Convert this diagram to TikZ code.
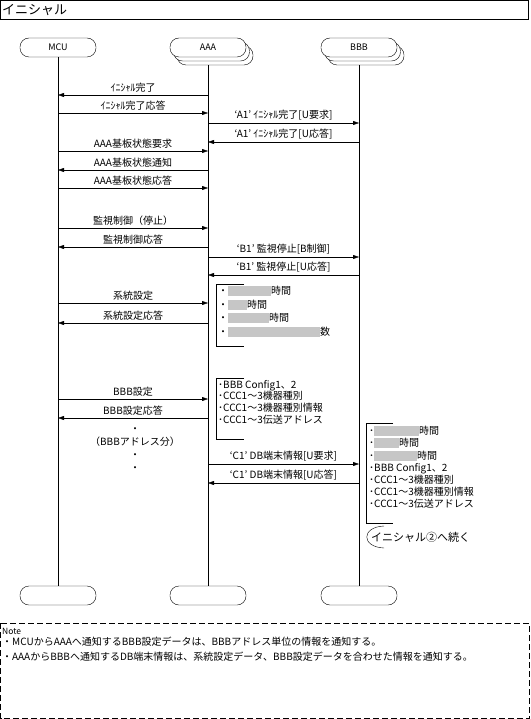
\documentclass[tikz,border=0pt]{standalone}
\usepackage{fontspec}
\setmainfont{Noto Sans CJK JP}
\usetikzlibrary{arrows.meta}
\newcommand{\blurred}[1]{\textcolor{gray!45}{\rule[-1.5pt]{#1}{10pt}}}

\begin{document}
\begin{tikzpicture}[x=1pt,y=-1pt,
  every node/.style={font=\fontsize{10}{12}\selectfont,inner sep=1pt},
  head/.style={draw,thin,fill=white,rounded corners=9pt,minimum width=76pt,
    minimum height=19pt,font=\fontsize{9}{10}\selectfont},
  msg/.style={thin,-{Triangle[length=6pt,width=4pt]}},
  lbl/.style={midway,above=1.5pt}]
  \useasboundingbox (0,0) rectangle (530,719);
  \draw[thin] (0.5,0.5) rectangle (528,19.5);
  \node[anchor=west,font=\fontsize{13}{15}\selectfont] (title) at (1,10) {イニシャル};
  % heads and feet of the lifelines
  \node[head] (mcu) at (58,47.5) {MCU};
  \foreach \name/\position/\entry in {aaa/208/AAA,bbb/359/BBB} {
    \node[head] (\name3) at (\position+7,55.5) {};
    \node[head] (\name2) at (\position+3.5,51.5) {};
    \node[head] (\name) at (\position,47.5) {\entry};
  }
  \foreach \name/\position in {mcu/58,aaa/208,bbb/359}
    \node[head] (\name-end) at (\position,595.5) {};
  \draw[thin] (mcu.south) -- (mcu-end.north);
  \draw[thin] (aaa3.south -| aaa) -- (aaa-end.north);
  \draw[thin] (bbb3.south -| bbb) -- (bbb-end.north);
  % messages
  \foreach \y/\src/\dst/\entry in {
      95/aaa/mcu/{ｲﾆｼｬﾙ完了},
      113/mcu/aaa/{ｲﾆｼｬﾙ完了応答},
      123/aaa/bbb/{‘A1’ ｲﾆｼｬﾙ完了[U要求]},
      142/bbb/aaa/{‘A1’ ｲﾆｼｬﾙ完了[U応答]},
      151/mcu/aaa/{AAA基板状態要求},
      170/aaa/mcu/{AAA基板状態通知},
      188/mcu/aaa/{AAA基板状態応答},
      228/mcu/aaa/{監視制御（停止）},
      247/aaa/mcu/{監視制御応答},
      257/aaa/bbb/{‘B1’ 監視停止[B制御]},
      275/bbb/aaa/{‘B1’ 監視停止[U応答]},
      303/mcu/aaa/{系統設定},
      323/aaa/mcu/{系統設定応答},
      399/mcu/aaa/{BBB設定},
      418/aaa/mcu/{BBB設定応答},
      464/aaa/bbb/{‘C1’ DB端末情報[U要求]},
      483/bbb/aaa/{‘C1’ DB端末情報[U応答]}}
    \draw[msg] (\src |- 0,\y) -- (\dst |- 0,\y) node[lbl] {\entry};
  \foreach \position/\entry in {430/・,442/（BBBアドレス分）,456/・,469/・}
    \node (dots\position) at (135,\position) {\entry};
  % data brackets
  \draw[thin] (244,284) -| (216,346) -- (244,346);
  \node[anchor=north west,align=left,font=\fontsize{10}{13.5}\selectfont] (sysinfo) at (217,285)
    {・\blurred{43pt}時間\\・\blurred{19pt}時間\\・\blurred{41pt}時間\\・\blurred{92pt}数};
  \draw[thin] (244,378) -| (216,439) -- (244,439);
  \node[anchor=north west,align=left,font=\fontsize{10}{11.7}\selectfont] (bbbinfo) at (217,379)
    {･BBB Config1、2\\･CCC1～3機器種別\\･CCC1～3機器種別情報\\･CCC1～3伝送アドレス};
  \draw[thin] (393,423) -| (366,523) -- (393,523);
  \node[anchor=north west,align=left,font=\fontsize{10}{12.2}\selectfont] (dbinfo) at (368,425)
    {･\blurred{45pt}時間\\･\blurred{25pt}時間\\･\blurred{43pt}時間\\･BBB Config1、2\\
     ･CCC1～3機器種別\\･CCC1～3機器種別情報\\･CCC1～3伝送アドレス};
  \draw[thin] (384,526) .. controls (361,527) and (361,547) .. (384,548);
  \node[anchor=west,font=\fontsize{11}{13}\selectfont] (next) at (370,537) {イニシャル②へ続く};
  % note
  \draw[thin,dash pattern=on 6pt off 3pt] (0.5,623) rectangle (529,718.5);
  \node[anchor=west,font=\fontsize{8.5}{10}\selectfont] (note) at (1,631) {Note};
  \node[anchor=west] (note1) at (1,642)
    {・MCUからAAAへ通知するBBB設定データは、BBBアドレス単位の情報を通知する。};
  \node[anchor=west] (note2) at (1,657)
    {・AAAからBBBへ通知するDB端末情報は、系統設定データ、BBB設定データを合わせた情報を通知する。};
\end{tikzpicture}
\end{document}
